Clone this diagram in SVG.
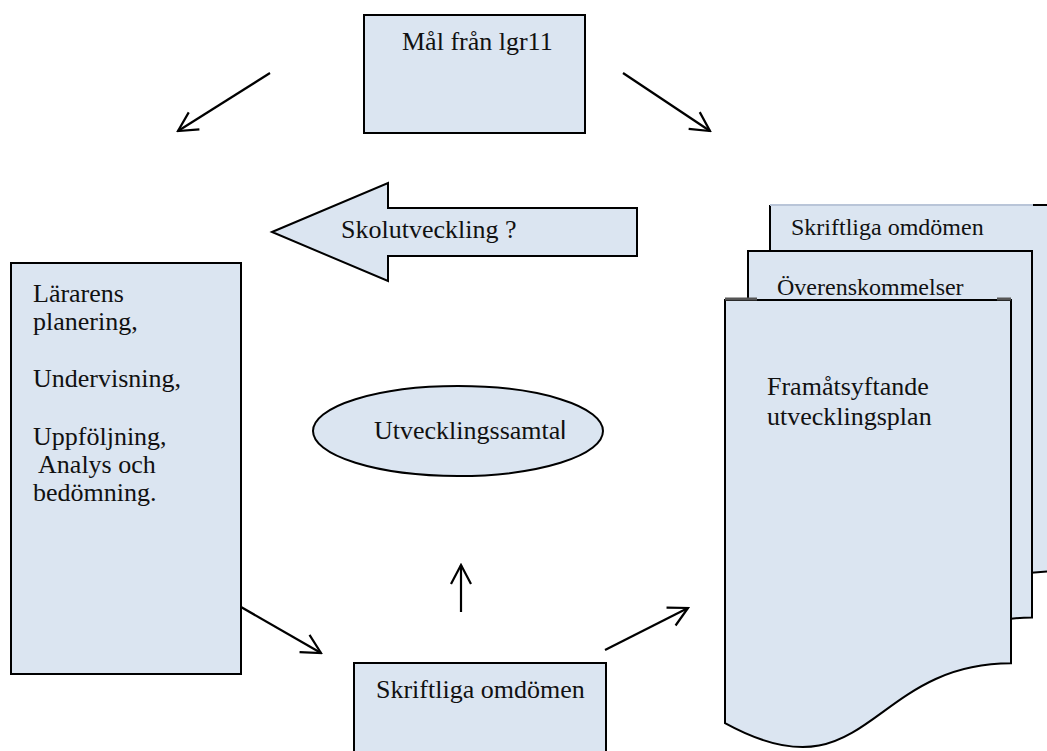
<svg xmlns="http://www.w3.org/2000/svg" width="1047" height="751" viewBox="0 0 1047 751">
  <style>
    .shape { fill: #dbe5f1; stroke: #000; stroke-width: 2; }
    .txt { font-family: "Liberation Serif", "Times New Roman", serif; font-size: 26px; fill: #111; }
    .sm { font-size: 24px; }
    .conn { stroke: #000; stroke-width: 2.2; fill: none; marker-end: url(#ah); }
  </style>
  <defs>
    <marker id="ah" viewBox="-22 -12 24 24" markerWidth="24" markerHeight="24" refX="0" refY="0" orient="auto" markerUnits="userSpaceOnUse">
      <path d="M-19,-10 L0,0 L-19,10" fill="none" stroke="#000" stroke-width="2.2"/>
    </marker>
  </defs>
  <rect width="1047" height="751" fill="#fff"/>

  <g id="node-mal">
    <rect class="shape" x="364" y="15" width="221" height="118"/>
    <text class="txt" x="402" y="50">Mål från lgr11</text>
  </g>

  <g id="node-skolutveckling">
    <polygon class="shape" points="272,232 388,183 388,208 637,208 637,256 388,256 388,281"/>
    <text class="txt" x="341" y="238">Skolutveckling ?</text>
  </g>

  <g id="node-lararens">
    <rect class="shape" x="11" y="263" width="230" height="411"/>
    <text class="txt" x="33" y="302">Lärarens</text>
    <text class="txt" x="33" y="330">planering,</text>
    <text class="txt" x="33" y="387">Undervisning,</text>
    <text class="txt" x="33" y="445">Uppföljning,</text>
    <text class="txt" x="33" y="473" xml:space="preserve"> Analys och</text>
    <text class="txt" x="33" y="501">bedömning.</text>
  </g>

  <g id="node-utvecklingssamtal">
    <ellipse class="shape" cx="458" cy="431" rx="145" ry="45"/>
    <text class="txt" x="374" y="439">Utvecklingssamta<tspan font-family="Liberation Sans, Arial, sans-serif">l</tspan></text>
  </g>

  <g id="node-skriftliga-bottom">
    <rect class="shape" x="354" y="663" width="252" height="110"/>
    <text class="txt" x="376" y="698">Skriftliga omdömen</text>
  </g>

  <g id="node-doc-skriftliga">
    <path d="M770,205 H1054 V571.5 C912,571.5 912,710.9 770,631.8 Z" fill="#dbe5f1" stroke="none"/>
    <path d="M770,631.8 V205" fill="none" stroke="#000" stroke-width="2"/>
    <path d="M1054,205 V571.5 C912,571.5 912,710.9 770,631.8" fill="none" stroke="#000" stroke-width="2"/>
    <line x1="770" y1="205" x2="1033" y2="205" stroke="#b9c5d8" stroke-width="2"/>
    <line x1="1033" y1="205" x2="1054" y2="205" stroke="#000" stroke-width="2"/>
    <text class="txt sm" x="791" y="235">Skriftliga omdömen</text>
  </g>

  <g id="node-doc-overens">
    <path class="shape" d="M748,251 H1032 V617.5 C890,617.5 890,756.9 748,677.8 Z"/>
    <text class="txt sm" x="777" y="295">Överenskommelser</text>
  </g>

  <g id="node-doc-framat">
    <path class="shape" d="M725,300 H1011 V663.3 C868,663.3 868,801.5 725,723.1 Z"/>
    <rect x="725" y="297.5" width="32" height="3" fill="#555"/>
    <rect x="997" y="297.5" width="14" height="3" fill="#555"/>
    <text class="txt" x="767" y="395">Framåtsyftande</text>
    <text class="txt" x="767" y="425">utvecklingsplan</text>
  </g>

  <g id="connectors">
    <line class="conn" x1="270" y1="73" x2="178" y2="131"/>
    <line class="conn" x1="623" y1="73" x2="710" y2="131"/>
    <line class="conn" x1="241" y1="607" x2="321" y2="653"/>
    <line class="conn" x1="461" y1="612" x2="461" y2="565"/>
    <line class="conn" x1="605" y1="650" x2="688" y2="608"/>
  </g>
</svg>
